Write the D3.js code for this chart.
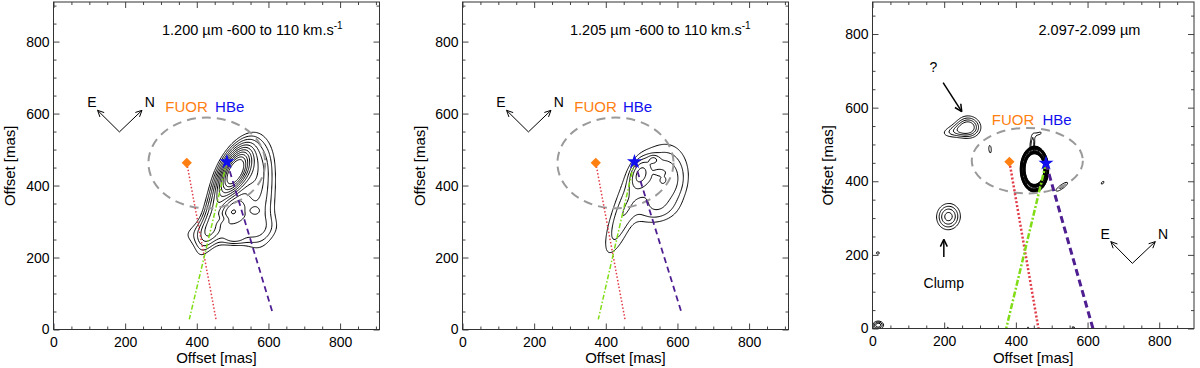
<!DOCTYPE html>
<html>
<head>
<meta charset="utf-8">
<script src="https://cdn.jsdelivr.net/npm/d3@7"></script>
<style>
body { margin: 0; background: #fff; }
svg text { font-family: "Liberation Sans", Arial, sans-serif; }
</style>
</head>
<body>
<svg id="fig" width="1200" height="368"></svg>
<script>
// tick values (mas)
const MAJOR_TICKS = [0, 200, 400, 600, 800];
const MINOR_TICKS = [50, 100, 150, 250, 300, 350, 450, 500, 550, 650, 700, 750, 850, 900];

// panel texts
const titles = ["1.200 \u00b5m -600 to 110 km.s", "1.205 \u00b5m -600 to 110 km.s", "2.097-2.099 \u00b5m"];
const titleSup = ["-1", "-1", ""];

// axis extents (mas)
const xMax = [910, 910, 897];
const yMax = [910, 910, 887];

// star positions (mas)
const fuorPos = [[372, 463], [372, 463], [382, 453]];
const hbePos = [[484, 466], [480, 466], [484, 449]];

// jet / outflow directions: end points of the lines (mas)
const redEnd = [[454, 26], [454, 26], [463, 0]];
const greenEnd = [[379, 28], [379, 28], [373, 0]];
const purpleEnd = [[612, 45], [612, 45], [615, 0]];

// dashed ellipse: cx, cy, rx, ry (mas)
const ellipses = [[428, 463, 163, 126], [427, 463, 162, 126], [432, 456, 155, 89]];

// compass: vertex and the two tips (mas)
const compass = [
  [[184, 549], [123, 609], [247, 609]],
  [[184, 549], [123, 609], [247, 609]],
  [[725, 177], [665, 236], [789, 236]]
];

// emission components: x, y, sigma along axis, sigma across, axis angle (deg), peak
const blobs1 = [
  [508, 440, 42, 20, 64, 1.0],
  [450, 330, 75, 18, 72, 0.22],
  [480, 272, 85, 26, 5, 0.12],
  [572, 360, 95, 33, 90, 0.13],
  [520, 400, 80, 50, 70, 0.08],
  [565, 455, 50, 28, 80, 0.09],
  [470, 308, 16, 8, 0, 0.05],
  [505, 250, 20, 9, 0, 0.06],
  [560, 330, 12, 7, 0, 0.05]
];
const levels1 = [0.06, 0.09, 0.13, 0.18, 0.24, 0.31, 0.39, 0.48, 0.58, 0.69, 0.81];

const blobs2 = [
  [497, 432, 25, 15, 70, 0.6],
  [533, 472, 10, 8, 0, 0.25],
  [548, 438, 10, 5, 0, 0.15],
  [530, 420, 70, 45, 60, 0.3],
  [440, 300, 75, 22, 70, 0.25],
  [578, 405, 50, 35, 80, 0.25],
  [540, 330, 40, 25, 10, 0.15]
];
const levels2 = [0.12, 0.2, 0.3, 0.45, 0.7];

// ring-shaped core in the K band map: cx, cy, rx, ry, relative width, peak
const rings3 = [[452, 433, 33, 52, 0.13, 1.0]];
const ringLevels3 = [0.3, 0.36, 0.42, 0.48, 0.54, 0.6, 0.66, 0.72, 0.78, 0.84, 0.9, 0.96];
const blobs3 = [
  [446, 500, 24, 6, 85, 0.52],
  [465, 530, 11, 5, 20, 0.36],
  [226, 535, 32, 14, 10, 0.4],
  [268, 548, 22, 25, 80, 0.72],
  [212, 304, 27, 25, 80, 0.72],
  [328, 487, 20, 7, 95, 0.34],
  [528, 385, 22, 6, 35, 0.45],
  [642, 396, 10, 5, 50, 0.34],
  [15, 205, 6, 8, 90, 0.35],
  [16, 9, 12, 9, 0, 0.65],
  [210, 2, 5, 3, 0, 0.34],
  [434, 2, 5, 3, 0, 0.34],
  [560, 3, 6, 3, 0, 0.37]
];
const blobLevels3 = [0.3, 0.42, 0.54, 0.66];

// annotations in the K band panel (mas)
const qText = [170, 698];
const qArrow = [[197, 668], [249, 589]];
const clumpText = [199, 109];
const clumpArrow = [[199, 194], [199, 242]];

const frames = [
  {left: 53.5, right: 379.5, top: 2, bottom: 329.5, titleX: 108.5, yTitle: -38.5},
  {left: 462.5, right: 788.5, top: 2, bottom: 329.5, titleX: 107.5, yTitle: -37.5},
  {left: 872.5, right: 1194, top: 2, bottom: 328.5, titleX: 166, yTitle: -39.5}
];
const labelOffsets = [
  {fuor: [312, 604], hbe: [451, 604]},
  {fuor: [312, 604], hbe: [448, 604]},
  {fuor: [333, 553], hbe: [474, 553]}
];

const FONT = "Liberation Sans, Arial, sans-serif";
const svg = d3.select("#fig");

function field(blobs, rings, nx, ny, step) {
  const values = new Float64Array(nx * ny);
  const pre = blobs.map(b => {
    const t = b[4] * Math.PI / 180;
    return {x: b[0], y: b[1], a: b[2], b: b[3], c: Math.cos(t), s: Math.sin(t), amp: b[5]};
  });
  for (let j = 0; j < ny; j++) {
    const yy = j * step;
    for (let i = 0; i < nx; i++) {
      const xx = i * step;
      let v = 0;
      pre.forEach(p => {
        const dx = xx - p.x, dy = yy - p.y;
        const u = (dx * p.c + dy * p.s) / p.a;
        const w = (-dx * p.s + dy * p.c) / p.b;
        v += p.amp * Math.exp(-0.5 * (u * u + w * w));
      });
      rings.forEach(r => {
        const dx = (xx - r[0]) / r[2], dy = (yy - r[1]) / r[3];
        const d = (Math.sqrt(dx * dx + dy * dy) - 1) / r[4];
        v += r[5] * Math.exp(-0.5 * d * d);
      });
      values[j * nx + i] = v;
    }
  }
  return values;
}

function arrowHead(g, x0, y0, x1, y1, len, width) {
  const a = Math.atan2(y1 - y0, x1 - x0);
  [-0.45, 0.45].forEach(da => {
    g.append("line")
      .attr("x1", x1).attr("y1", y1)
      .attr("x2", x1 - len * Math.cos(a + da))
      .attr("y2", y1 - len * Math.sin(a + da))
      .attr("stroke", "#000").attr("stroke-width", width);
  });
}

function drawPanel(k, layers, thick) {
  const f = frames[k];
  const w = f.right - f.left, h = f.bottom - f.top;
  const x = d3.scaleLinear().domain([0, xMax[k]]).range([0, w]);
  const y = d3.scaleLinear().domain([0, yMax[k]]).range([h, 0]);
  const g = svg.append("g").attr("transform", `translate(${f.left},${f.top})`);

  const clipId = "clip" + k;
  g.append("clipPath").attr("id", clipId)
    .append("rect").attr("width", w).attr("height", h);
  const plot = g.append("g").attr("clip-path", `url(#${clipId})`);

  // contours
  const step = 3;
  const nx = Math.ceil(xMax[k] / step) + 1, ny = Math.ceil(yMax[k] / step) + 1;
  const proj = d3.geoTransform({
    point: function(px, py) { this.stream.point(x((px - 0.5) * step), y((py - 0.5) * step)); }
  });
  const path = d3.geoPath(proj);
  layers.forEach(layer => {
    const values = field(layer.blobs, layer.rings, nx, ny, step);
    const contours = d3.contours().size([nx, ny]).thresholds(layer.levels)(values);
    plot.append("g").selectAll("path").data(contours).enter()
      .append("path")
      .attr("d", path)
      .attr("fill", "none").attr("stroke", "#000").attr("stroke-width", 1);
  });

  // dashed ellipse
  const e = ellipses[k];
  plot.append("ellipse")
    .attr("cx", x(e[0])).attr("cy", y(e[1]))
    .attr("rx", x(e[2]) - x(0)).attr("ry", y(0) - y(e[3]))
    .attr("fill", "none").attr("stroke", "#9a9a9a").attr("stroke-width", 2)
    .attr("stroke-dasharray", "9,6");

  // outflow lines
  const lw = thick ? [2.5, 2.5, 3] : [1.5, 1.5, 1.8];
  plot.append("line")
    .attr("x1", x(fuorPos[k][0])).attr("y1", y(fuorPos[k][1]))
    .attr("x2", x(redEnd[k][0])).attr("y2", y(redEnd[k][1]))
    .attr("stroke", "#e23a46").attr("stroke-width", lw[0]).attr("stroke-dasharray", thick ? "2,2" : "1.5,2");
  plot.append("line")
    .attr("x1", x(hbePos[k][0])).attr("y1", y(hbePos[k][1]))
    .attr("x2", x(greenEnd[k][0])).attr("y2", y(greenEnd[k][1]))
    .attr("stroke", "#80dc14").attr("stroke-width", lw[1]).attr("stroke-dasharray", thick ? "6,2,2,2" : "5,2,1.5,2");
  plot.append("line")
    .attr("x1", x(hbePos[k][0])).attr("y1", y(hbePos[k][1]))
    .attr("x2", x(purpleEnd[k][0])).attr("y2", y(purpleEnd[k][1]))
    .attr("stroke", "#4f1f92").attr("stroke-width", lw[2]).attr("stroke-dasharray", thick ? "7,4" : "6,4");

  // star markers
  plot.append("path")
    .attr("d", d3.symbol(d3.symbolSquare, 52)())
    .attr("transform", `translate(${x(fuorPos[k][0])},${y(fuorPos[k][1])}) rotate(45)`)
    .attr("fill", "#ff8010");
  plot.append("path")
    .attr("d", d3.symbol(d3.symbolStar, 70)())
    .attr("transform", `translate(${x(hbePos[k][0])},${y(hbePos[k][1])})`)
    .attr("fill", "#1010ee");

  // labels
  const lo = labelOffsets[k];
  g.append("text").attr("x", x(lo.fuor[0])).attr("y", y(lo.fuor[1]))
    .attr("font-size", 15).attr("fill", "#ff8010").text("FUOR");
  g.append("text").attr("x", x(lo.hbe[0])).attr("y", y(lo.hbe[1]))
    .attr("font-size", 15).attr("fill", "#1010ee").text("HBe");

  // compass
  const c = compass[k];
  const v = [x(c[0][0]), y(c[0][1])];
  [c[1], c[2]].forEach(tip => {
    const t = [x(tip[0]), y(tip[1])];
    g.append("line").attr("x1", v[0]).attr("y1", v[1]).attr("x2", t[0]).attr("y2", t[1])
      .attr("stroke", "#000").attr("stroke-width", 1);
    arrowHead(g, v[0], v[1], t[0], t[1], 7, 1);
  });
  g.append("text").attr("x", x(c[1][0]) - 5.6).attr("y", y(c[1][1]) - 3)
    .attr("text-anchor", "middle").attr("font-size", 14).text("E");
  g.append("text").attr("x", x(c[2][0]) + 7.8).attr("y", y(c[2][1]) - 3)
    .attr("text-anchor", "middle").attr("font-size", 14).text("N");

  // title
  const tt = g.append("text").attr("x", f.titleX).attr("y", 32.5).attr("font-size", 14.5).text(titles[k]);
  if (titleSup[k]) {
    tt.append("tspan").attr("dy", -6).attr("font-size", 10).text(titleSup[k]);
  }

  // frame and ticks
  const inX = MINOR_TICKS.filter(t => t <= xMax[k]);
  const inY = MINOR_TICKS.filter(t => t <= yMax[k]);
  const axes = [
    g.append("g").attr("transform", `translate(0,${h})`)
      .call(d3.axisBottom(x).tickValues(MAJOR_TICKS).tickSize(-6).tickPadding(8)),
    g.append("g").attr("transform", `translate(0,${h})`)
      .call(d3.axisBottom(x).tickValues(inX).tickSize(-3).tickFormat("")),
    g.append("g").call(d3.axisTop(x).tickValues(MAJOR_TICKS).tickSize(-6).tickFormat("")),
    g.append("g").call(d3.axisTop(x).tickValues(inX).tickSize(-3).tickFormat("")),
    g.append("g").call(d3.axisLeft(y).tickValues(MAJOR_TICKS).tickSize(-6).tickPadding(4)),
    g.append("g").call(d3.axisLeft(y).tickValues(inY).tickSize(-3).tickFormat("")),
    g.append("g").attr("transform", `translate(${w},0)`)
      .call(d3.axisRight(y).tickValues(MAJOR_TICKS).tickSize(-6).tickFormat("")),
    g.append("g").attr("transform", `translate(${w},0)`)
      .call(d3.axisRight(y).tickValues(inY).tickSize(-3).tickFormat(""))
  ];
  axes.forEach(a => {
    a.attr("font-size", 14).attr("font-family", FONT);
    a.select(".domain").remove();
    a.selectAll(".tick line").attr("stroke", "#444");
    a.selectAll(".tick text").attr("fill", "#000");
  });
  g.append("rect").attr("width", w).attr("height", h)
    .attr("fill", "none").attr("stroke", "#333").attr("stroke-width", 1);

  // axis titles
  g.append("text").attr("x", w / 2).attr("y", 363 - f.top)
    .attr("text-anchor", "middle").attr("font-size", 15).text("Offset [mas]");
  g.append("text")
    .attr("transform", `translate(${f.yTitle},${h / 2}) rotate(-90)`)
    .attr("text-anchor", "middle").attr("font-size", 15).text("Offset [mas]");

  return {g, x, y};
}

drawPanel(0, [{blobs: blobs1, rings: [], levels: levels1}], false);
drawPanel(1, [{blobs: blobs2, rings: [], levels: levels2}], false);
const p3 = drawPanel(2, [
  {blobs: [], rings: rings3, levels: ringLevels3},
  {blobs: blobs3, rings: [], levels: blobLevels3}
], true);

// annotations in the K band panel
const {g, x, y} = p3;
g.append("text").attr("x", x(qText[0])).attr("y", y(qText[1]))
  .attr("text-anchor", "middle").attr("font-size", 14).text("?");
g.append("line")
  .attr("x1", x(qArrow[0][0])).attr("y1", y(qArrow[0][1]))
  .attr("x2", x(qArrow[1][0])).attr("y2", y(qArrow[1][1]))
  .attr("stroke", "#000").attr("stroke-width", 1.5);
arrowHead(g, x(qArrow[0][0]), y(qArrow[0][1]), x(qArrow[1][0]), y(qArrow[1][1]), 8, 1.5);
g.append("text").attr("x", x(clumpText[0])).attr("y", y(clumpText[1]))
  .attr("text-anchor", "middle").attr("font-size", 14).text("Clump");
g.append("line")
  .attr("x1", x(clumpArrow[0][0])).attr("y1", y(clumpArrow[0][1]))
  .attr("x2", x(clumpArrow[1][0])).attr("y2", y(clumpArrow[1][1]))
  .attr("stroke", "#000").attr("stroke-width", 1.5);
arrowHead(g, x(clumpArrow[0][0]), y(clumpArrow[0][1]), x(clumpArrow[1][0]), y(clumpArrow[1][1]), 8, 1.5);
</script>
</body>
</html>
